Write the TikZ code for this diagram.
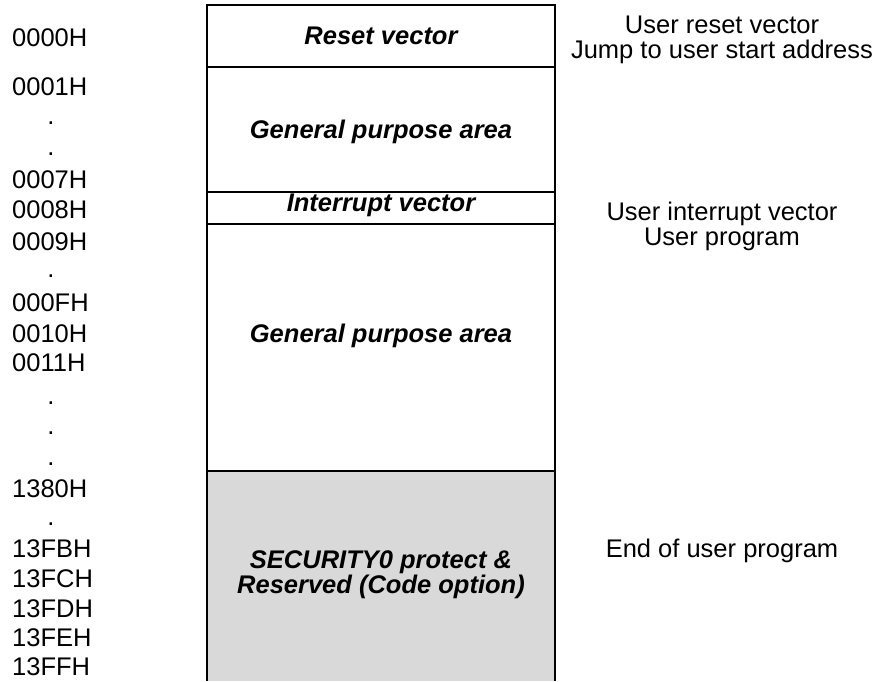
\documentclass[tikz,border=0pt]{standalone}
\usepackage{fontspec}
\setmainfont{Liberation Sans}
\usepackage{xcolor}
\usetikzlibrary{positioning}

\definecolor{secgray}{HTML}{D9D9D9}

\begin{document}
\begin{tikzpicture}[
    x=1pt, y=-1pt,
    every node/.style={inner sep=0pt, font=\fontsize{25.5}{25}\selectfont},
    addr/.style={anchor=base west},
    adot/.style={anchor=base},
    area/.style={anchor=base, align=center, font=\fontsize{25.5}{23}\selectfont\bfseries\itshape},
    note/.style={anchor=base, align=center},
    mapline/.style={line width=2.6pt}
]
    \useasboundingbox (0,0) rectangle (882,681);

    % protected block
    \fill[secgray] (207,471) rectangle (555,681);

    % memory map frame and row lines
    \draw[mapline] (207,681) -- (207,5) -- (555,5) -- (555,681);
    \foreach \y in {67,192,224,471}
        \draw[mapline] (207,\y) -- (555,\y);

    % areas (base = last line)
    \node[area] (reset)  at (381,44)  {Reset vector};
    \node[area] (gp1)    at (381,138) {General purpose area};
    \node[area] (intvec) at (381,211) {Interrupt vector};
    \node[area] (gp2)    at (381,342) {General purpose area};
    \node[area] (secur)  at (381,593) {SECURITY0 protect \&\\Reserved (Code option)};

    % addresses
    \node[addr] (a0000) at (12,46)  {0000H};
    \node[addr] (a0001) at (12,95)  {0001H};
    \node[adot] (d1)    at (51,124) {.};
    \node[adot] (d2)    at (51,155) {.};
    \node[addr] (a0007) at (12,188) {0007H};
    \node[addr] (a0008) at (12,218) {0008H};
    \node[addr] (a0009) at (12,250) {0009H};
    \node[adot] (d3)    at (51,277) {.};
    \node[addr] (a000F) at (12,311) {000FH};
    \node[addr] (a0010) at (12,342) {0010H};
    \node[addr] (a0011) at (12,371) {0011H};
    \node[adot] (d4)    at (51,404) {.};
    \node[adot] (d5)    at (51,434) {.};
    \node[adot] (d6)    at (51,465) {.};
    \node[addr] (a1380) at (12,497) {1380H};
    \node[adot] (d7)    at (51,525) {.};
    \node[addr] (a13FB) at (12,557) {13FBH};
    \node[addr] (a13FC) at (12,587) {13FCH};
    \node[addr] (a13FD) at (12,617) {13FDH};
    \node[addr] (a13FE) at (12,646) {13FEH};
    \node[addr] (a13FF) at (12,675) {13FFH};

    % notes
    \node[note] (nreset) at (722,58)  {User reset vector\\Jump to user start address};
    \node[note] (nint)   at (722,245) {User interrupt vector\\User program};
    \node[note] (nend)   at (722,557) {End of user program};
\end{tikzpicture}
\end{document}
